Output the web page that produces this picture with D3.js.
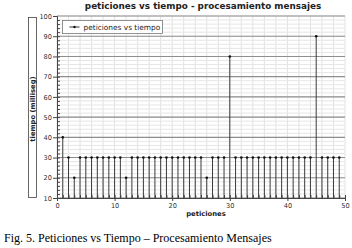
<!DOCTYPE html>
<html>
<head>
<meta charset="utf-8">
<script src="https://cdn.jsdelivr.net/npm/d3@7"></script>
<style>
  body { margin: 0; background: #fff; }
  svg { display: block; }
</style>
</head>
<body>
<svg class="chart" width="352" height="248"></svg>
<script>
// peticiones 1..49 and the time each one took
var peticiones = [1,2,3,4,5,6,7,8,9,10,11,12,13,14,15,16,17,18,19,20,21,22,23,24,25,
                  26,27,28,29,30,31,32,33,34,35,36,37,38,39,40,41,42,43,44,45,46,47,48,49];
var tiempo = [40,30,20,30,30,30,30,30,30,30,30,20,30,30,30,30,30,30,30,30,30,30,30,30,30,
              20,30,30,30,80,30,30,30,30,30,30,30,30,30,30,30,30,30,30,90,30,30,30,30];
var xTicks = [0, 10, 20, 30, 40, 50];
var yTicks = [10, 20, 30, 40, 50, 60, 70, 80, 90, 100];

var svg = d3.select('.chart');
var pLeft = 57, pRight = 345, pTop = 16, pBottom = 198;

var x = d3.scaleLinear().domain([0, 50]).range([pLeft, pRight]);
var y = d3.scaleLinear().domain([10, 100]).range([pBottom, pTop]);

// minor grid
svg.append('g').selectAll('line')
   .data(d3.range(0, 51, 2))
   .enter().append('line')
   .attr('x1', d => x(d)).attr('x2', d => x(d))
   .attr('y1', pTop).attr('y2', pBottom)
   .attr('stroke', '#e2e2e2').attr('stroke-width', 1);
svg.append('g').selectAll('line')
   .data(d3.range(10, 101, 2))
   .enter().append('line')
   .attr('x1', pLeft).attr('x2', pRight)
   .attr('y1', d => y(d)).attr('y2', d => y(d))
   .attr('stroke', '#e6e6e6').attr('stroke-width', 1);

// major horizontal grid
svg.append('g').selectAll('line')
   .data(yTicks)
   .enter().append('line')
   .attr('x1', pLeft).attr('x2', pRight)
   .attr('y1', d => y(d)).attr('y2', d => y(d))
   .attr('stroke', '#8e8e8e').attr('stroke-width', 1.1);

// axes
var yAxis = d3.axisLeft(y).tickValues(yTicks).tickSize(4).tickPadding(1);
svg.append('g').attr('transform', 'translate(' + pLeft + ',0)').call(yAxis);
var yMinor = d3.axisRight(y).tickValues(d3.range(12, 100, 2)).tickSize(3).tickFormat('');
svg.append('g').attr('transform', 'translate(' + pLeft + ',0)').call(yMinor)
   .select('.domain').remove();

var xAxis = d3.axisBottom(x).tickValues(xTicks).tickSize(3).tickPadding(2);
svg.append('g').attr('transform', 'translate(0,' + pBottom + ')').call(xAxis);
var xMinor = d3.axisTop(x).tickValues(d3.range(0, 51, 1)).tickSize(3).tickFormat('');
svg.append('g').attr('transform', 'translate(0,' + pBottom + ')').call(xMinor)
   .select('.domain').remove();

svg.selectAll('.tick text')
   .attr('font-family', 'DejaVu Sans').attr('font-size', '6.6px').attr('fill', '#333');
svg.selectAll('.domain, .tick line').attr('stroke', '#444');

// stems
svg.append('g').selectAll('line')
   .data(tiempo)
   .enter().append('line')
   .attr('x1', (d, i) => x(peticiones[i])).attr('x2', (d, i) => x(peticiones[i]))
   .attr('y1', y(10)).attr('y2', d => y(d))
   .attr('stroke', '#3a3a3a').attr('stroke-width', 1);
svg.append('g').selectAll('circle')
   .data(tiempo)
   .enter().append('circle')
   .attr('cx', (d, i) => x(peticiones[i])).attr('cy', d => y(d))
   .attr('r', 1.3).attr('fill', '#111');

// legend
var lg = svg.append('g').attr('transform', 'translate(62.5,20.5)');
lg.append('rect').attr('width', 100).attr('height', 13)
  .attr('fill', '#fff').attr('stroke', '#777').attr('stroke-width', 0.8);
lg.append('line').attr('x1', 7).attr('x2', 17).attr('y1', 6.5).attr('y2', 6.5)
  .attr('stroke', '#333');
lg.append('circle').attr('cx', 12).attr('cy', 6.5).attr('r', 1.2).attr('fill', '#111');
lg.append('text').attr('x', 21).attr('y', 9.3)
  .attr('font-family', 'DejaVu Sans').attr('font-size', '7.4px').attr('fill', '#222')
  .text('peticiones vs tiempo');

// title
svg.append('text').attr('x', 203).attr('y', 9)
   .attr('text-anchor', 'middle')
   .attr('font-family', 'DejaVu Sans').attr('font-weight', 'bold')
   .attr('font-size', '8.8px').attr('fill', '#222')
   .text('peticiones vs tiempo - procesamiento mensajes');

// y label box
svg.append('rect').attr('x', 28.5).attr('y', 17.5).attr('width', 8).attr('height', 180)
   .attr('fill', '#fff').attr('stroke', '#444').attr('stroke-width', 0.8);
svg.append('text')
   .attr('transform', 'translate(35,' + 109 + ') rotate(-90)')
   .attr('text-anchor', 'middle')
   .attr('font-family', 'DejaVu Sans').attr('font-weight', 'bold')
   .attr('font-size', '6.8px').attr('fill', '#222')
   .text('tiempo (milliseg)');

// x label
svg.append('text').attr('x', 206).attr('y', 216)
   .attr('text-anchor', 'middle')
   .attr('font-family', 'DejaVu Sans').attr('font-weight', 'bold')
   .attr('font-size', '6.8px').attr('fill', '#222')
   .text('peticiones');

// caption
svg.append('text').attr('x', 4).attr('y', 242)
   .attr('font-family', 'Liberation Serif').attr('font-size', '12px').attr('fill', '#000')
   .text('Fig. 5. Peticiones vs Tiempo – Procesamiento Mensajes');
</script>
</body>
</html>
